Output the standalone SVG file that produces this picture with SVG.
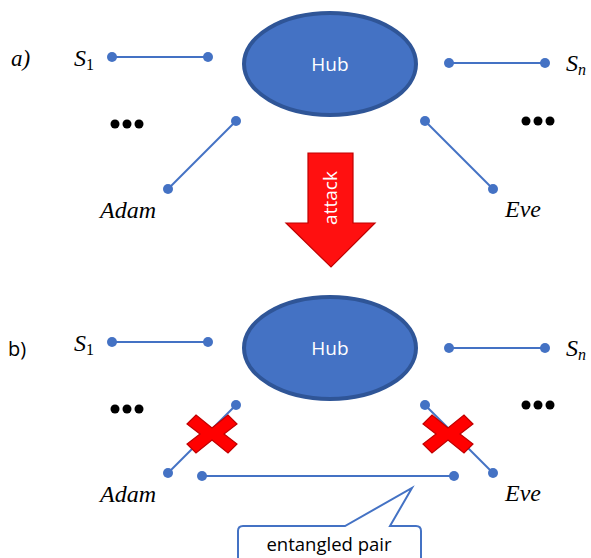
<svg xmlns="http://www.w3.org/2000/svg" width="591" height="558" viewBox="0 0 591 558">
<style>
.ln{stroke:#4472C4;stroke-width:2;fill:none}
.dot{fill:#4472C4}
.hub{fill:#4472C4;stroke:#2F5597;stroke-width:4}
.hubt{font-family:"Open Sans","Noto Sans",sans-serif;font-size:19px;fill:#fff;text-anchor:middle}
.math{font-family:"Liberation Serif",serif;font-style:italic;font-size:24px;fill:#000}
.sub{font-family:"Liberation Serif",serif;font-style:normal;font-size:16px;fill:#000}
.subi{font-family:"Liberation Serif",serif;font-style:italic;font-size:16px;fill:#000}
.lbl{font-family:"Open Sans","Noto Sans",sans-serif;font-size:20px;fill:#000}
.xm{fill:#FF0000;stroke:#C00000;stroke-width:1.2}
.ell{fill:#000}
</style>
<defs>
<path id="xshape" d="M-16,-19 L0,-6 L16,-19 L25,-10 L12,0 L25,10 L16,19 L0,6 L-16,19 L-25,10 L-12,0 L-25,-10 Z"/>
<g id="dots3"><circle cx="0" cy="0" r="4.5"/><circle cx="12" cy="0" r="4.5"/><circle cx="24" cy="0" r="4.5"/></g>
</defs>

<!-- panel labels -->
<text x="11" y="66" class="math" style="font-size:23px">a)</text>
<text x="8" y="356" class="lbl">b)</text>

<!-- connectors -->
<g id="connectors">
  <line class="ln" x1="112" y1="57" x2="208" y2="57"/>
  <line class="ln" x1="236" y1="121" x2="168" y2="189"/>
  <line class="ln" x1="449" y1="63" x2="545" y2="63"/>
  <line class="ln" x1="425" y1="121" x2="493" y2="189"/>
  <line class="ln" x1="112" y1="342" x2="208" y2="342"/>
  <line class="ln" x1="236" y1="405" x2="168" y2="473"/>
  <line class="ln" x1="449" y1="348" x2="545" y2="348"/>
  <line class="ln" x1="425" y1="405" x2="493" y2="473"/>
  <line class="ln" x1="202" y1="476" x2="454" y2="476"/>
  <g class="dot">
    <circle cx="112" cy="57" r="5"/><circle cx="208" cy="57" r="5"/>
    <circle cx="236" cy="121" r="5"/><circle cx="168" cy="189" r="5"/>
    <circle cx="449" cy="63" r="5"/><circle cx="545" cy="63" r="5"/>
    <circle cx="425" cy="121" r="5"/><circle cx="493" cy="189" r="5"/>
    <circle cx="112" cy="342" r="5"/><circle cx="208" cy="342" r="5"/>
    <circle cx="236" cy="405" r="5"/><circle cx="168" cy="473" r="5"/>
    <circle cx="449" cy="348" r="5"/><circle cx="545" cy="348" r="5"/>
    <circle cx="425" cy="405" r="5"/><circle cx="493" cy="473" r="5"/>
    <circle cx="202" cy="476" r="5"/><circle cx="454" cy="476" r="5"/>
  </g>
</g>

<!-- top panel nodes -->
<g id="hub-a">
  <ellipse class="hub" cx="330" cy="64" rx="86" ry="51"/>
  <text class="hubt" x="330" y="71">Hub</text>
</g>
<g id="s1-a"><text class="math" x="74" y="66">S<tspan class="sub" dy="4">1</tspan></text></g>
<g id="sn-a"><text class="math" x="566" y="71">S<tspan class="subi" dy="4">n</tspan></text></g>
<g id="adam-a"><text class="math" x="100" y="218">Adam</text></g>
<g id="eve-a"><text class="math" x="505" y="217">Eve</text></g>
<g id="ellipsis-a" class="ell">
  <use href="#dots3" x="115" y="124"/>
  <use href="#dots3" x="526" y="121"/>
</g>

<!-- attack arrow -->
<g id="attack">
  <path d="M308,153 L353,153 L353,223 L375,223 L331,267 L286,223 L308,223 Z" fill="#FF1010" stroke="#C00000" stroke-width="1.2"/>
  <text class="hubt" transform="translate(337,198) rotate(-90)">attack</text>
</g>

<!-- bottom panel nodes -->
<g id="hub-b">
  <ellipse class="hub" cx="330" cy="348" rx="86" ry="51"/>
  <text class="hubt" x="330" y="355">Hub</text>
</g>
<g id="s1-b"><text class="math" x="74" y="351">S<tspan class="sub" dy="4">1</tspan></text></g>
<g id="sn-b"><text class="math" x="566" y="356">S<tspan class="subi" dy="4">n</tspan></text></g>
<g id="adam-b"><text class="math" x="100" y="502">Adam</text></g>
<g id="eve-b"><text class="math" x="505" y="501">Eve</text></g>
<g id="ellipsis-b" class="ell">
  <use href="#dots3" x="115" y="409"/>
  <use href="#dots3" x="526" y="405"/>
</g>
<g id="x-left"><use href="#xshape" class="xm" transform="translate(212,434)"/></g>
<g id="x-right"><use href="#xshape" class="xm" transform="translate(448,434)"/></g>

<!-- callout -->
<g id="callout">
  <path d="M243,526 L345,526 L412,488 L390,526 L416,526 Q421,526 421,531 L421,570 L238,570 L238,531 Q238,526 243,526 Z" fill="#fff" stroke="#4472C4" stroke-width="2"/>
  <text x="329" y="551" style="font-family:'Open Sans','Noto Sans',sans-serif;font-size:18.5px;fill:#000;text-anchor:middle">entangled pair</text>
</g>
</svg>
